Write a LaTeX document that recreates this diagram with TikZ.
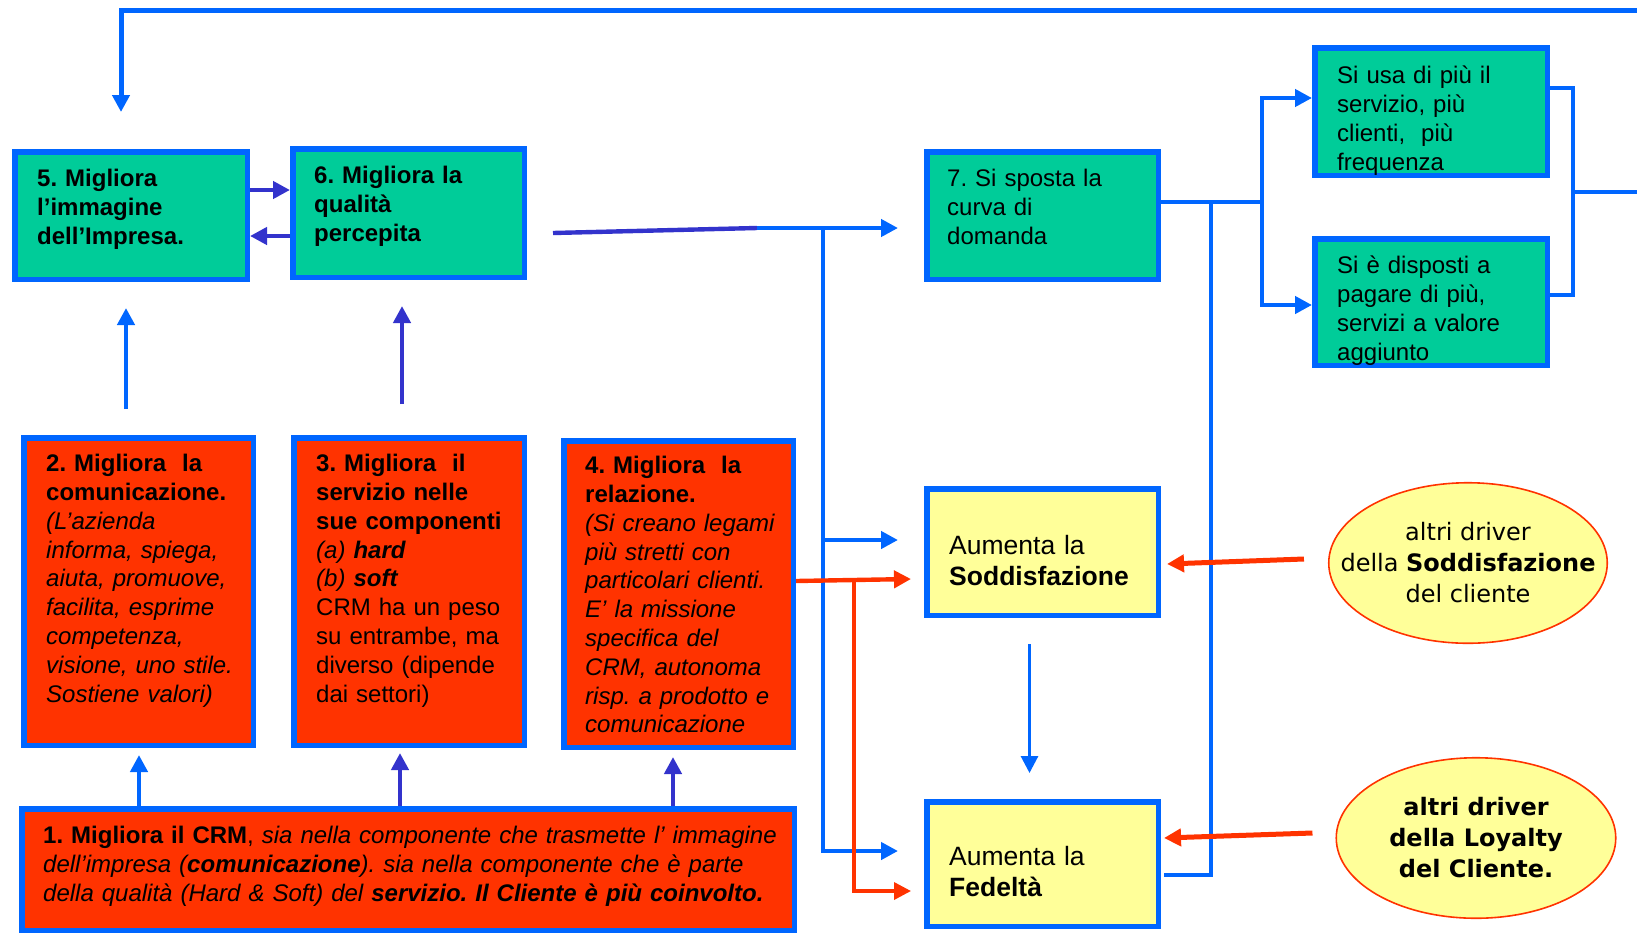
\documentclass[tikz,border=0pt]{standalone}
\usepackage{fontspec}
\setmainfont{Liberation Sans}
\newfontfamily\drvfont{DejaVu Sans}
\usepackage{tikz}
\usetikzlibrary{arrows.meta}
\usetikzlibrary{calc}
\usetikzlibrary{shapes.geometric}
\frenchspacing

\definecolor{crmblue}{RGB}{0,102,255}
\definecolor{crmviolet}{RGB}{51,51,204}
\definecolor{crmgreen}{RGB}{0,204,153}
\definecolor{crmred}{RGB}{255,51,0}
\definecolor{crmyellow}{RGB}{255,255,153}

\tikzset{
	box/.style={rectangle, draw=crmblue, line width=5.5pt, inner sep=0pt},
	greenbox/.style={box, fill=crmgreen},
	redbox/.style={box, fill=crmred},
	yellowbox/.style={box, fill=crmyellow},
	driver/.style={ellipse, draw=crmred, line width=1.6pt, fill=crmyellow, inner sep=0pt},
	drvtxt/.style={inner sep=0pt, align=center, font=\drvfont\fontsize{24pt}{31pt}\selectfont},
	txt/.style={anchor=north west, inner sep=0pt, text width=#1, align=left, font=\fontsize{24pt}{28.8pt}\selectfont},
	txt/.default=215pt,
	link/.style={crmblue, line width=4.4pt},
	arr/.style={link, -{Triangle[length=17pt, width=17pt]}},
	varr/.style={arr, crmviolet},
	rarr/.style={arr, crmred},
}

\begin{document}
\begin{tikzpicture}[x=1pt, y=-1pt]
	\useasboundingbox (0,0) rectangle (1637,935);
	
	% top row
	\node[greenbox, minimum width=232.5pt, minimum height=127.5pt] (b5) at (131,215.5) {};
	\node[greenbox, minimum width=231.5pt, minimum height=128.5pt] (b6) at (408.5,213) {};
	\node[greenbox, minimum width=231.5pt, minimum height=127.5pt] (b7) at (1042.5,215.5) {};
	\node[greenbox, minimum width=232.5pt, minimum height=127.5pt] (bu) at (1431,111.5) {};
	\node[greenbox, minimum width=232.5pt, minimum height=126.5pt] (bp) at (1431,302) {};
	
	\node[txt, font=\fontsize{24pt}{29pt}\selectfont\bfseries] (t5) at (37,169) {5. Migliora\\l’immagine\\dell’Impresa.};
	\node[txt, font=\fontsize{24pt}{29pt}\selectfont\bfseries] (t6) at (314,166) {6. Migliora la\\qualità\\percepita};
	\node[txt] (t7) at (947,169) {7. Si sposta la\\curva di\\domanda};
	\node[txt] (tu) at (1337,66) {Si usa di più il\\servizio, più\\clienti,\ \ più\\frequenza};
	\node[txt] (tp) at (1337,256) {Si è disposti a\\pagare di più,\\servizi a valore\\aggiunto};
	
	% red boxes
	\node[redbox, minimum width=229.5pt, minimum height=307.5pt] (b2) at (138.5,591.5) {};
	\node[redbox, minimum width=230.5pt, minimum height=307.5pt] (b3) at (409,591.5) {};
	\node[redbox, minimum width=229.5pt, minimum height=306.5pt] (b4) at (678.5,594) {};
	\node[redbox, minimum width=772.5pt, minimum height=121.5pt] (b1) at (408,869.5) {};
	
	\node[txt] (t2) at (46,454) {\textbf{2. Migliora\ \ la}\\\textbf{comunicazione.}\\\textit{(L’azienda}\\\textit{informa, spiega,}\\\textit{aiuta, promuove,}\\\textit{facilita, esprime}\\\textit{competenza,}\\\textit{visione, uno stile.}\\\textit{Sostiene valori)}};
	\node[txt] (t3) at (316,454) {\textbf{3. Migliora\ \ il}\\\textbf{servizio nelle}\\\textbf{sue componenti}\\\textit{(a) \textbf{hard}}\\\textit{(b) \textbf{soft}}\\CRM ha un peso\\su entrambe, ma\\diverso (dipende\\dai settori)};
	\node[txt] (t4) at (585,456) {\textbf{4. Migliora\ \ la}\\\textbf{relazione.}\\\textit{(Si creano legami}\\\textit{più stretti con}\\\textit{particolari clienti.}\\\textit{E’ la missione}\\\textit{specifica del}\\\textit{CRM, autonoma}\\\textit{risp. a prodotto e}\\\textit{comunicazione}};
	\node[txt=760pt] (t1) at (43,826) {\textbf{1. Migliora il CRM}, \textit{sia nella componente che trasmette l’ immagine}\\\textit{dell’impresa (\textbf{comunicazione}). sia nella componente che è parte}\\\textit{della qualità (Hard \& Soft) del \textbf{servizio. Il Cliente è più coinvolto.}}};
	
	% yellow boxes and drivers
	\node[yellowbox, minimum width=231.5pt, minimum height=126.5pt] (bs) at (1042.5,552) {};
	\node[yellowbox, minimum width=231.5pt, minimum height=124.5pt] (bf) at (1042.5,864) {};
	\node[txt, font=\fontsize{26.5pt}{31pt}\selectfont] (ts) at (949,535) {Aumenta la\\\textbf{Soddisfazione}};
	\node[txt, font=\fontsize{26.5pt}{31pt}\selectfont] (tf) at (949,846) {Aumenta la\\\textbf{Fedeltà}};
	
	\node[driver, minimum width=278.5pt, minimum height=160.5pt] (e1) at (1468,563) {};
	\node[driver, minimum width=279.5pt, minimum height=160.5pt] (e2) at (1476,838) {};
	\node[drvtxt] (d1) at (e1) {altri driver\\della \textbf{Soddisfazione}\\del cliente};
	\node[drvtxt, font=\drvfont\fontsize{24pt}{31pt}\selectfont\bfseries] (d2) at (e2) {altri driver\\della Loyalty\\del Cliente.};
	
	% feedback loop
	\coordinate (loopR) at (1637,10);
	\coordinate (loopL) at (121,10);
	\draw[arr, line width=5pt] (loopR) -- (loopL) -- ($(b5.north)+(-10,-37)$);
	
	\coordinate (brk) at (1573,192);
	\coordinate (brkR) at (1637,192);
	\draw[link] ($(bu.east)+(0,-23.5)$) -| (brk) |- ($(bp.east)+(0,-7)$);
	\draw[link] (brk) -- (brkR);
	
	% demand fork
	\coordinate (dm) at (1262,202);
	\coordinate (dmU) at (1262,98);
	\coordinate (dmD) at (1262,305);
	\draw[link] (b7.east |- dm) -- (dm);
	\draw[arr] (dmD) -- (dmU) -- (dmU -| bu.west);
	\draw[arr] (dm) -- (dmD) -- (dmD -| bp.west);
	
	\coordinate (fl) at (1211,202);
	\draw[link] (fl) |- ($(bf.east)+(3,11)$);
	
	% from 6 to 7, soddisfazione, fedelta
	\coordinate (q6) at (757,228);
	\coordinate (sp) at (823,228);
	\coordinate (spS) at (823,540);
	\draw[link, crmviolet] ($(b6.east)+(26,20)$) -- (q6);
	\draw[arr] (q6) -- ($(b7.west)+(-26,12.5)$);
	\draw[arr] (sp) |- ($(bf.west)+(-26,-13)$);
	\draw[arr] (spS) -- ($(bs.west)+(-26,-12)$);
	
	% relazione
	\coordinate (rl) at (854,580.5);
	\draw[rarr] ($(b4.east)+(0,-13)$) -- ($(bs.west)+(-13,27)$);
	\draw[rarr, line width=3.5pt] (rl) |- ($(bf.west)+(-13,27)$);
	
	% drivers
	\draw[rarr, line width=5pt] ($(e1.west)+(-24,-4)$) -- ($(bs.east)+(6,12)$);
	\draw[rarr, line width=5pt] ($(e2.west)+(-23,-5)$) -- ($(bf.east)+(3,-26)$);
	\draw[arr, line width=3pt] ($(bs.south)+(-13,26)$) -- ($(bf.north)+(-13,-26)$);
	
	% 5 <-> 6
	\draw[varr] ($(b5.east)+(0,-25.5)$) -- ($(b6.west)+(0,-23)$);
	\draw[varr] ($(b6.west)+(0,23)$) -- ($(b5.east)+(0,20.5)$);
	
	% upwards
	\draw[arr] ($(b2.north)+(-12.5,-26)$) -- ($(b5.south)+(-5,26)$);
	\draw[varr] ($(b3.north)+(-7,-31)$) -- ($(b6.south)+(-6.5,26)$);
	\draw[arr] ($(b1.north)+(-269,0)$) -- ($(b2.south)+(0.5,7)$);
	\draw[varr] ($(b1.north)+(-8,0)$) -- ($(b3.south)+(-9,5)$);
	\draw[varr] ($(b1.north)+(265,0)$) -- ($(b4.south)+(-5.5,7)$);
	
\end{tikzpicture}
\end{document}
